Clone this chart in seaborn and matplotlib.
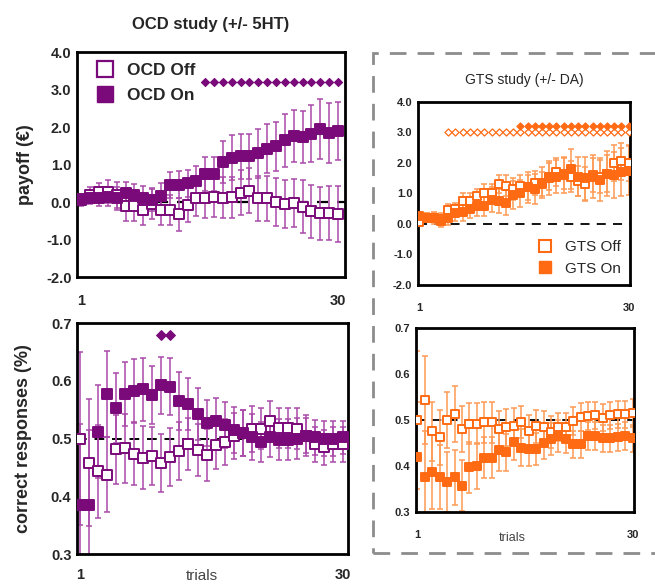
import numpy as np
import pandas as pd
import seaborn as sns
import matplotlib.pyplot as plt
from matplotlib.patches import Rectangle
from matplotlib.lines import Line2D

sns.set_theme(style="white")
plt.rcParams['font.family'] = ['Liberation Sans', 'DejaVu Sans']

# --- datos ---
trials = list(range(1, 31))

ocd_pay_off = [0.05, 0.2, 0.27, 0.28, 0.18, -0.1, -0.1, -0.22, -0.05, -0.2,
               -0.22, -0.33, -0.08, 0.12, 0.12, 0.15, 0.12, 0.13, 0.25, 0.3,
               0.1, 0.1, 0.0, -0.05, -0.02, -0.12, -0.25, -0.3, -0.3, -0.32]
ocd_pay_off_err = [0.15, 0.2, 0.25, 0.3, 0.35, 0.4, 0.4, 0.4, 0.4, 0.4,
                   0.4, 0.45, 0.45, 0.5, 0.55, 0.55, 0.55, 0.55, 0.6, 0.6,
                   0.6, 0.6, 0.65, 0.65, 0.65, 0.7, 0.7, 0.7, 0.72, 0.75]
ocd_pay_on = [0.08, 0.1, 0.1, 0.15, 0.1, 0.25, 0.18, 0.12, 0.07, 0.17,
              0.45, 0.47, 0.5, 0.57, 0.75, 0.75, 1.07, 1.19, 1.22, 1.22,
              1.3, 1.43, 1.49, 1.65, 1.76, 1.74, 1.83, 1.94, 1.84, 1.9]
ocd_pay_on_err = [0.1, 0.15, 0.2, 0.25, 0.3, 0.3, 0.3, 0.3, 0.3, 0.35,
                  0.35, 0.35, 0.35, 0.4, 0.45, 0.45, 0.55, 0.6, 0.6, 0.6,
                  0.65, 0.65, 0.65, 0.7, 0.7, 0.7, 0.75, 0.8, 0.8, 0.78]

ocd_cor_off = [0.5, 0.458, 0.443, 0.437, 0.481, 0.483, 0.474, 0.467, 0.47, 0.457,
               0.468, 0.478, 0.49, 0.48, 0.472, 0.488, 0.494, 0.505, 0.51, 0.517,
               0.517, 0.53, 0.518, 0.518, 0.517, 0.505, 0.49, 0.485, 0.49, 0.49]
ocd_cor_off_err = [0.15, 0.11, 0.08, 0.065, 0.06, 0.06, 0.055, 0.055, 0.05, 0.05,
                   0.05, 0.05, 0.045, 0.045, 0.045, 0.04, 0.04, 0.04, 0.04, 0.04,
                   0.035, 0.035, 0.035, 0.035, 0.035, 0.03, 0.03, 0.03, 0.03, 0.03]
ocd_cor_on = [0.385, 0.385, 0.512, 0.577, 0.553, 0.577, 0.582, 0.585, 0.575, 0.592,
              0.59, 0.565, 0.56, 0.543, 0.527, 0.53, 0.523, 0.515, 0.51, 0.502,
              0.494, 0.503, 0.498, 0.498, 0.5, 0.505, 0.502, 0.5, 0.5, 0.502]
ocd_cor_on_err = [0.14, 0.13, 0.08, 0.075, 0.06, 0.055, 0.055, 0.055, 0.05, 0.05,
                  0.05, 0.05, 0.045, 0.045, 0.04, 0.04, 0.04, 0.04, 0.04, 0.04,
                  0.035, 0.035, 0.035, 0.035, 0.035, 0.035, 0.03, 0.03, 0.03, 0.028]

gts_pay_off = [0.05, 0.2, 0.2, 0.15, 0.45, 0.5, 0.75, 0.75, 0.9, 1.0,
               1.0, 1.3, 1.25, 1.15, 1.25, 1.2, 1.35, 1.3, 1.55, 1.7,
               1.65, 1.55, 1.4, 1.3, 1.6, 1.55, 1.65, 2.0, 2.05, 2.0]
gts_pay_off_err = [0.1, 0.15, 0.15, 0.2, 0.2, 0.2, 0.25, 0.25, 0.25, 0.3,
                   0.3, 0.3, 0.35, 0.35, 0.35, 0.4, 0.4, 0.4, 0.45, 0.45,
                   0.5, 0.5, 0.5, 0.55, 0.55, 0.55, 0.6, 0.6, 0.6, 0.6]
gts_pay_on = [0.25, 0.2, 0.2, 0.1, 0.2, 0.35, 0.4, 0.5, 0.6, 0.6,
              0.8, 0.75, 0.7, 0.95, 1.0, 1.2, 1.15, 1.35, 1.5, 1.55,
              1.6, 1.8, 1.55, 1.5, 1.55, 1.45, 1.65, 1.6, 1.7, 1.75]
gts_pay_on_err = [0.15, 0.15, 0.2, 0.2, 0.25, 0.25, 0.3, 0.3, 0.35, 0.35,
                  0.4, 0.4, 0.4, 0.45, 0.45, 0.5, 0.5, 0.5, 0.55, 0.55,
                  0.6, 0.65, 0.65, 0.7, 0.7, 0.7, 0.75, 0.75, 0.8, 0.8]

gts_cor_off = [0.5, 0.543, 0.475, 0.462, 0.5, 0.513, 0.48, 0.492, 0.492, 0.495,
               0.495, 0.48, 0.484, 0.486, 0.495, 0.475, 0.486, 0.485, 0.473, 0.485,
               0.485, 0.498, 0.506, 0.508, 0.51, 0.505, 0.51, 0.512, 0.512, 0.515]
gts_cor_off_err = [0.15, 0.095, 0.065, 0.06, 0.06, 0.06, 0.05, 0.045, 0.045, 0.045,
                   0.045, 0.04, 0.04, 0.04, 0.035, 0.035, 0.035, 0.035, 0.035, 0.03,
                   0.03, 0.03, 0.03, 0.03, 0.03, 0.03, 0.03, 0.03, 0.03, 0.03]
gts_cor_on = [0.42, 0.375, 0.387, 0.376, 0.366, 0.375, 0.357, 0.397, 0.4, 0.418,
              0.418, 0.435, 0.43, 0.452, 0.44, 0.436, 0.437, 0.45, 0.458, 0.465,
              0.458, 0.447, 0.447, 0.465, 0.465, 0.46, 0.46, 0.462, 0.465, 0.46]
gts_cor_on_err = [0.12, 0.1, 0.08, 0.07, 0.065, 0.06, 0.055, 0.055, 0.05, 0.045,
                  0.045, 0.045, 0.04, 0.04, 0.04, 0.035, 0.035, 0.035, 0.035, 0.035,
                  0.03, 0.03, 0.03, 0.03, 0.03, 0.03, 0.03, 0.03, 0.03, 0.03]

# ensayos significativos (diamantes)
ocd_pay_sig = list(range(15, 31))
ocd_cor_sig = [10, 11]
gts_pay_sig_off = list(range(5, 31))
gts_pay_sig_on = list(range(15, 31))

PURPLE = "#7a0a7a"
PURPLE_ERR = "#a94aa9"
ORANGE = "#ff6a13"
ORANGE_ERR = "#ff9a55"


def draw_series(ax, y, err, color, ecolor, filled, size):
    df = pd.DataFrame({"trial": trials, "y": y})
    ax.errorbar(trials, y, yerr=err, fmt="none", ecolor=ecolor,
                elinewidth=1.1, capsize=2.5, capthick=1.1, zorder=2)
    sns.scatterplot(data=df, x="trial", y="y", ax=ax, marker="s", s=size,
                    color=color if filled else "white", edgecolor=color,
                    linewidth=1.4, zorder=3, legend=False)


def draw_sig(ax, xs, level, color, filled, size):
    df = pd.DataFrame({"trial": xs, "y": [level] * len(xs)})
    sns.scatterplot(data=df, x="trial", y="y", ax=ax, marker="D", s=size,
                    color=color if filled else "white", edgecolor=color,
                    linewidth=0.9, zorder=3, legend=False)


def style_axes(ax, ylim, yticks, fmt, tick_fs, xpad):
    ax.set_ylim(*ylim)
    ax.set_yticks(yticks)
    ax.set_yticklabels([fmt.format(v) for v in yticks], fontweight="bold",
                       fontsize=tick_fs)
    ax.set_xticks([1, 30])
    ax.set_xticklabels(["1", "30"], fontweight="bold", fontsize=tick_fs)
    ax.tick_params(axis="both", length=0)
    ax.tick_params(axis="x", pad=xpad)
    ax.tick_params(axis="y", pad=4)
    ax.set_xlabel("")
    ax.set_ylabel("")
    for sp in ax.spines.values():
        sp.set_visible(True)
        sp.set_color("black")
        sp.set_linewidth(2)


fig = plt.figure(figsize=(6.55, 5.87), dpi=100)

# caja discontinua del estudio GTS
fig.patches.append(Rectangle((373 / 655, (587 - 553) / 587), 0.6, 500 / 587,
                             transform=fig.transFigure, fill=False,
                             edgecolor="#8c8c8c", linewidth=2,
                             linestyle=(0, (6, 4)), zorder=0))

# === OCD payoff ===
ax1 = fig.add_axes([77 / 655, 0.528, 268 / 655, 0.383])
ax1.axhline(0, color="black", linestyle=(0, (5, 4)), linewidth=1.6, zorder=1)
draw_series(ax1, ocd_pay_off, ocd_pay_off_err, PURPLE, PURPLE_ERR, False, 46)
draw_series(ax1, ocd_pay_on, ocd_pay_on_err, PURPLE, PURPLE_ERR, True, 46)
draw_sig(ax1, ocd_pay_sig, 3.2, PURPLE, True, 16)
ax1.set_xlim(0.5, 30.8)
style_axes(ax1, (-2, 4), [-2, -1, 0, 1, 2, 3, 4], "{:.1f}", 10.5, 12)
ax1.set_ylabel("payoff (€)", fontsize=13, fontweight="bold")
ax1.yaxis.set_label_coords(-0.16, 0.5)
ax1.set_title("OCD study (+/- 5HT)", fontsize=12, fontweight="bold", pad=17)
h1 = [Line2D([], [], marker="s", linestyle="none", markersize=11,
             markerfacecolor="white", markeredgecolor=PURPLE, markeredgewidth=1.6),
      Line2D([], [], marker="s", linestyle="none", markersize=11,
             markerfacecolor=PURPLE, markeredgecolor=PURPLE)]
ax1.legend(h1, ["OCD Off", "OCD On"], loc="upper left", frameon=False,
           prop={"weight": "bold", "size": 12.5}, handletextpad=0.3,
           borderaxespad=0.2, labelspacing=0.6)

# === OCD correct responses ===
ax2 = fig.add_axes([77 / 655, 0.0562, 271 / 655, 0.3935])
ax2.axhline(0.5, color="black", linestyle=(0, (5, 4)), linewidth=1.4, zorder=1)
draw_series(ax2, ocd_cor_off, ocd_cor_off_err, PURPLE, PURPLE_ERR, False, 44)
draw_series(ax2, ocd_cor_on, ocd_cor_on_err, PURPLE, PURPLE_ERR, True, 44)
draw_sig(ax2, ocd_cor_sig, 0.68, PURPLE, True, 24)
ax2.set_xlim(0.7, 30.6)
style_axes(ax2, (0.3, 0.7), [0.3, 0.4, 0.5, 0.6, 0.7], "{:.1f}", 10.5, 10)
ax2.set_ylabel("correct responses (%)", fontsize=13, fontweight="bold")
ax2.yaxis.set_label_coords(-0.165, 0.5)
ax2.text(0.46, -0.095, "trials", transform=ax2.transAxes, ha="center",
         va="center", fontsize=11, color="#444444")

# === GTS payoff ===
ax3 = fig.add_axes([418 / 655, 0.5145, 212 / 655, 0.312])
ax3.axhline(0, color="black", linestyle=(0, (5, 4)), linewidth=1.3, zorder=1)
draw_series(ax3, gts_pay_off, gts_pay_off_err, ORANGE, ORANGE_ERR, False, 32)
draw_series(ax3, gts_pay_on, gts_pay_on_err, ORANGE, ORANGE_ERR, True, 32)
draw_sig(ax3, gts_pay_sig_off, 3.0, ORANGE, False, 13)
draw_sig(ax3, gts_pay_sig_on, 3.2, ORANGE, True, 13)
ax3.set_xlim(0.8, 30.2)
style_axes(ax3, (-2, 4), [-2, -1, 0, 1, 2, 3, 4], "{:.1f}", 8, 13)
ax3.set_title("GTS study (+/- DA)", fontsize=10, pad=13)
h3 = [Line2D([], [], marker="s", linestyle="none", markersize=9,
             markerfacecolor="white", markeredgecolor=ORANGE, markeredgewidth=1.5),
      Line2D([], [], marker="s", linestyle="none", markersize=9,
             markerfacecolor=ORANGE, markeredgecolor=ORANGE)]
ax3.legend(h3, ["GTS Off", "GTS On"], loc="lower right", frameon=False,
           prop={"size": 11}, handletextpad=0.3, borderaxespad=0.2,
           labelspacing=0.5)

# === GTS correct responses ===
ax4 = fig.add_axes([416 / 655, 0.1278, 218 / 655, 0.3135])
ax4.axhline(0.5, color="black", linestyle=(0, (5, 4)), linewidth=1.3, zorder=1)
draw_series(ax4, gts_cor_off, gts_cor_off_err, ORANGE, ORANGE_ERR, False, 32)
draw_series(ax4, gts_cor_on, gts_cor_on_err, ORANGE, ORANGE_ERR, True, 32)
ax4.set_xlim(0.8, 30.2)
style_axes(ax4, (0.3, 0.7), [0.3, 0.4, 0.5, 0.6, 0.7], "{:.1f}", 8, 13)
ax4.text(0.44, -0.14, "trials", transform=ax4.transAxes, ha="center",
         va="center", fontsize=9, color="#444444")

plt.savefig("out.png", dpi=100)
